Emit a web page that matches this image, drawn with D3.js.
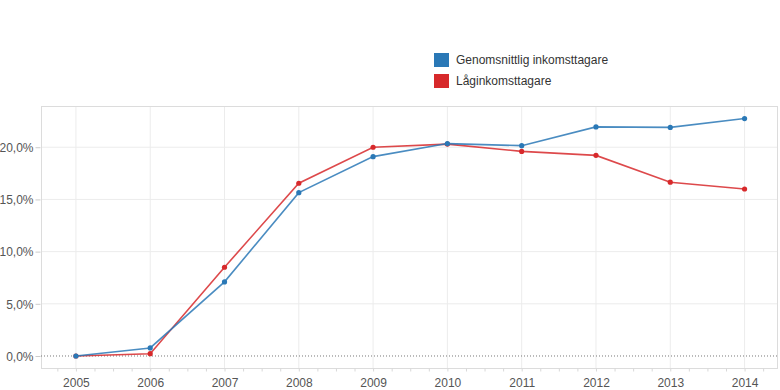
<!DOCTYPE html>
<html>
<head>
<meta charset="utf-8">
<script src="https://cdn.jsdelivr.net/npm/d3@7"></script>
<style>
  body { margin: 0; background: #fff; }
  svg { display: block; font-family: "Liberation Sans", Arial, sans-serif; }
</style>
</head>
<body>
<div id="graph"></div>
<script>
'use strict';

const years = [2005, 2006, 2007, 2008, 2009, 2010, 2011, 2012, 2013, 2014];
const avgIncome = [0.0, 0.77, 7.1, 15.65, 19.1, 20.35, 20.15, 21.95, 21.9, 22.75];
const lowIncome = [0.0, 0.22, 8.5, 16.55, 20.0, 20.3, 19.6, 19.22, 16.65, 16.0];
const yTicks = [0, 5, 10, 15, 20];
const seriesNames = ['Genomsnittlig inkomsttagare', 'Låginkomsttagare'];

const colors = {
  'Genomsnittlig inkomsttagare': '#2a78b6',
  'Låginkomsttagare': '#d7292b',
};

const W = 780, H = 390;
const plot = { left: 41, right: 778, top: 106, bottom: 368 };

const svg = d3.select('#graph')
  .append('svg')
  .attr('width', W)
  .attr('height', H);

const x = d3.scaleLinear()
  .domain([2004.53, 2014.45])
  .range([plot.left, plot.right]);

const y = d3.scaleLinear()
  .domain([-1.15, 23.95])
  .range([plot.bottom, plot.top]);

const fmt = d => d3.format('.1f')(d).replace('.', ',') + '%';

// grid
svg.append('g')
  .selectAll('line')
  .data(years)
  .enter()
  .append('line')
  .attr('x1', d => x(d)).attr('x2', d => x(d))
  .attr('y1', plot.top).attr('y2', plot.bottom)
  .attr('stroke', '#ececec');

svg.append('g')
  .selectAll('line')
  .data(yTicks.filter(t => t > 0))
  .enter()
  .append('line')
  .attr('x1', plot.left).attr('x2', plot.right)
  .attr('y1', d => y(d)).attr('y2', d => y(d))
  .attr('stroke', '#ececec');

// frame
svg.append('rect')
  .attr('x', plot.left + 0.5)
  .attr('y', plot.top + 0.5)
  .attr('width', plot.right - plot.left - 1)
  .attr('height', plot.bottom - plot.top)
  .attr('fill', 'none')
  .attr('stroke', '#dcdcdc');

// zero line
svg.append('line')
  .attr('x1', plot.left).attr('x2', plot.right)
  .attr('y1', y(0)).attr('y2', y(0))
  .attr('stroke', '#777')
  .attr('stroke-dasharray', '1,2');

// y axis
const yAxis = d3.axisLeft(y)
  .tickValues(yTicks)
  .tickSize(5)
  .tickPadding(2)
  .tickFormat(fmt);

const gy = svg.append('g')
  .attr('transform', `translate(${plot.left - 0.5}, 0)`)
  .call(yAxis);
gy.select('.domain').remove();
gy.selectAll('line').attr('stroke', '#ccc');
gy.selectAll('text')
  .attr('fill', '#555')
  .style('font-size', '12px')
  .attr('dy', '0.35em');

// x axis: minor quarter ticks then year labels
const quarters = d3.range(2004.75, 2014.5, 0.25);
const gxMinor = svg.append('g')
  .attr('transform', `translate(0, ${plot.bottom + 0.5})`)
  .call(d3.axisBottom(x).tickValues(quarters).tickSize(3).tickFormat(''));
gxMinor.select('.domain').remove();
gxMinor.selectAll('line').attr('stroke', '#d8d8d8');

const gx = svg.append('g')
  .attr('transform', `translate(0, ${plot.bottom})`)
  .call(d3.axisBottom(x).tickValues(years).tickSize(0).tickPadding(10).tickFormat(d3.format('d')));
gx.select('.domain').remove();
gx.selectAll('text')
  .attr('fill', '#555')
  .style('font-size', '12px');

// series
const series = [
  { name: seriesNames[0], values: avgIncome },
  { name: seriesNames[1], values: lowIncome },
];

const line = d3.line()
  .x((d, i) => x(years[i]))
  .y(d => y(d));

// draw red first, blue on top
[series[1], series[0]].forEach(s => {
  svg.append('path')
    .datum(s.values)
    .attr('fill', 'none')
    .attr('stroke', colors[s.name])
    .attr('stroke-width', 1.6)
    .attr('stroke-opacity', 0.85)
    .attr('d', line);

  svg.append('g')
    .selectAll('circle')
    .data(s.values)
    .enter()
    .append('circle')
    .attr('cx', (d, i) => x(years[i]))
    .attr('cy', d => y(d))
    .attr('r', 2.6)
    .attr('fill', colors[s.name]);
});

// legend
const legend = svg.append('g')
  .attr('transform', 'translate(434, 53)');

const items = legend.selectAll('g')
  .data(seriesNames)
  .enter()
  .append('g')
  .attr('transform', (d, i) => `translate(0, ${i * 21})`);

items.append('rect')
  .attr('width', 15)
  .attr('height', 14)
  .attr('fill', d => colors[d]);

items.append('text')
  .attr('x', 22)
  .attr('y', 11)
  .attr('fill', '#333')
  .style('font-size', '12px')
  .text(d => d);
</script>
</body>
</html>
